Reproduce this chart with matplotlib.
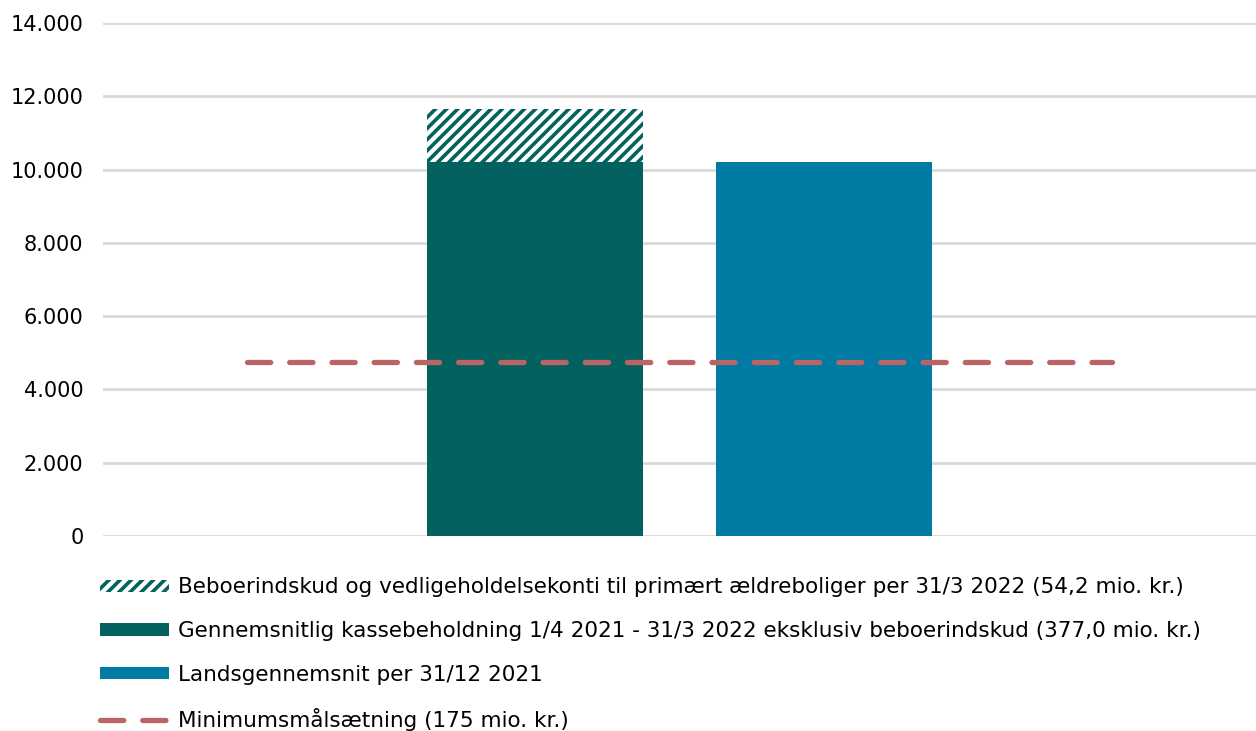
import matplotlib
matplotlib.use('Agg')
import matplotlib.pyplot as plt
from matplotlib.ticker import FuncFormatter, MultipleLocator
from matplotlib.patches import Patch
from matplotlib.lines import Line2D

# data
categories = ['', 'Afdeling', 'Landsgennemsnit', '']
kasse = [0, 10200, 0, 0]
beboer = [0, 1450, 0, 0]
lands = [0, 0, 10200, 0]
minimum = [4750, 4750, 4750, 4750]

labels = ['Beboerindskud og vedligeholdelsekonti til primært ældreboliger per 31/3 2022 (54,2 mio. kr.)',
          'Gennemsnitlig kassebeholdning 1/4 2021 - 31/3 2022 eksklusiv beboerindskud (377,0 mio. kr.)',
          'Landsgennemsnit per 31/12 2021',
          'Minimumsmålsætning (175 mio. kr.)']

green = '#03625f'
blue = '#007ba3'
red = '#bb6466'

plt.rcParams['font.family'] = ['DejaVu Sans']
plt.rcParams['hatch.linewidth'] = 2.6
plt.rcParams['hatch.color'] = green

fig = plt.figure(figsize=(12.56, 7.31), dpi=100)
ax = fig.add_axes([0.082, 0.2668, 0.918, 0.7017])

x = list(range(len(categories)))
w = 0.75
ax.bar(x[1], kasse[1], width=w, color=green, linewidth=0)
ax.bar(x[1], beboer[1], bottom=kasse[1], width=w, facecolor='white',
       edgecolor=green, hatch='///', linewidth=0)
ax.bar(x[2], lands[2], width=w, color=blue, linewidth=0)
ax.plot(x, minimum, color=red, linewidth=3.8, dashes=(4.4, 3.6),
        dash_capstyle='round', zorder=3)

ax.set_xlim(-0.5, 3.5)
ax.set_ylim(0, 14000)
ax.yaxis.set_major_locator(MultipleLocator(2000))
ax.yaxis.set_major_formatter(FuncFormatter(lambda v, p: f'{int(v):,}'.replace(',', '.')))
ax.grid(axis='y', color='#d9d9d9', linewidth=2)
ax.set_axisbelow(True)
for s in ax.spines.values():
    s.set_visible(False)
ax.tick_params(axis='y', length=0, pad=14, labelsize=15)
ax.tick_params(axis='x', length=0, labelbottom=False)

handles = [Patch(facecolor='white', edgecolor=green, hatch='///', linewidth=0),
           Patch(facecolor=green, linewidth=0),
           Patch(facecolor=blue, linewidth=0),
           Line2D([0], [0], color=red, linewidth=3.8, dashes=(4.4, 3.6),
                  dash_capstyle='round')]
fig.legend(handles, labels, loc='upper left', bbox_to_anchor=(0.073, 0.222),
           frameon=False, fontsize=15.5, handlelength=3.2, handleheight=0.5,
           handletextpad=0.4, labelspacing=1.1, borderaxespad=0)

fig.savefig('out.png', dpi=100)
